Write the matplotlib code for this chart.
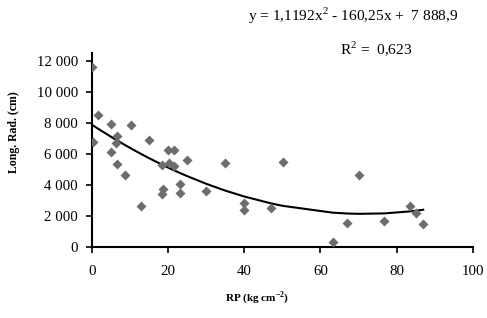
import matplotlib
matplotlib.use("Agg")
import matplotlib.pyplot as plt
import numpy as np
from matplotlib.ticker import FuncFormatter

rp = [0, 0.2, 1.7, 5.1, 5.1, 6.5, 6.4, 6.5, 8.7, 10.2, 13.0, 15.1, 18.3, 18.6, 18.5,
      19.9, 20.1, 21.5, 21.5, 23.1, 23.1, 24.9, 30.0, 35.0, 40.0, 40.0, 47.0, 50.1,
      63.2, 67.0, 70.1, 76.8, 83.4, 85.1, 87.0]
long_rad = [11600, 6770, 8540, 7960, 6150, 7170, 6700, 5380, 4650, 7880, 2650, 6900,
            5300, 3740, 3460, 6240, 5450, 6280, 5250, 4100, 3520, 5620, 3610, 5400,
            2860, 2390, 2540, 5470, 360, 1580, 4660, 1710, 2690, 2200, 1470]
coef = [1.1192, -160.25, 7888.9]
eq_text = "y = 1,1192x$^{2}$ - 160,25x +  7 888,9"
r2_text = "R$^{2}$ =  0,623"
xticks = [0, 20, 40, 60, 80, 100]
yticks = [0, 2000, 4000, 6000, 8000, 10000, 12000]

plt.rcParams['font.family'] = ['Liberation Serif']
plt.rcParams['mathtext.fontset'] = 'custom'
plt.rcParams['mathtext.rm'] = 'Liberation Serif'
plt.rcParams['mathtext.bf'] = 'Liberation Serif:bold'

fig = plt.figure(figsize=(4.87, 3.18), dpi=100)
ax = fig.add_axes([92/487, 1-247.3/318, (472.7-92)/487, (247.3-52.7)/318])

ax.scatter(rp, long_rad, marker='D', s=26, color='#6d6d6d', zorder=3, linewidths=0)
xs = np.sort(np.array(rp))
ax.plot(xs, np.polyval(coef, xs), color='black', lw=1.5, zorder=2)

ax.set_xlim(0, 100)
ax.set_ylim(0, 12530)
ax.set_xticks(xticks)
ax.set_yticks(yticks)
ax.yaxis.set_major_formatter(FuncFormatter(lambda v, p: f"{int(v):,}".replace(",", " ")))
for s in ['top', 'right']:
    ax.spines[s].set_visible(False)
for s in ['left', 'bottom']:
    ax.spines[s].set_linewidth(1.5)
ax.tick_params(axis='both', labelsize=10.7, width=1.2, length=4, direction='out', pad=6)
ax.tick_params(axis='x', pad=9)

fig.text(14/487, 1-132/318, "Long. Rad. (cm)", rotation=90, ha='center', va='center',
         fontsize=8.5, fontweight='bold')
fig.text(257/487, 1-298/318, r"RP (kg cm$^{\mathbf{-2}}$)", ha='center', va='center',
         fontsize=8, fontweight='bold')
fig.text(353/487, 1-16/318, eq_text, ha='center', va='center', fontsize=11.1)
fig.text(376/487, 1-49/318, r2_text, ha='center', va='center', fontsize=11.1)

fig.savefig("out.png", dpi=100)
